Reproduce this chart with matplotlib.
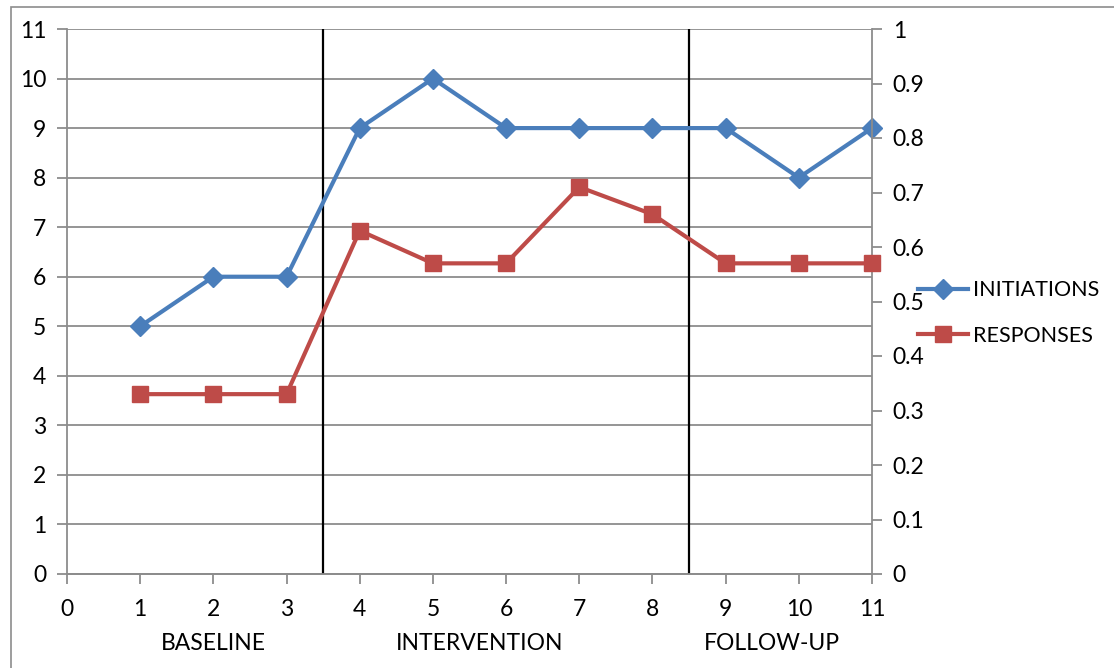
import matplotlib
matplotlib.use("Agg")
import matplotlib.pyplot as plt
from matplotlib.patches import Rectangle
from matplotlib.lines import Line2D

plt.rcParams['font.family'] = ['Lato', 'DejaVu Sans']

sessions = [1, 2, 3, 4, 5, 6, 7, 8, 9, 10, 11]
initiations = [5, 6, 6, 9, 10, 9, 9, 9, 9, 8, 9]
responses = [0.33, 0.33, 0.33, 0.63, 0.57, 0.57, 0.71, 0.66, 0.57, 0.57, 0.57]
phase_breaks = [3.5, 8.5]
phase_names = ["BASELINE", "INTERVENTION", "FOLLOW-UP"]
phase_centers = [2, 5.64, 9.63]

blue = "#4A7EBB"
red = "#BE4B48"
grey = "#8C8C8C"
fs = 16.5

fig = plt.figure(figsize=(11.14, 6.68), dpi=100)
ax = fig.add_axes([67 / 1114, 94 / 668, 805 / 1114, 545 / 668])
ax2 = ax.twinx()

# outer chart border (cropped on right/bottom)
fig.patches.append(Rectangle((11 / 1114, -0.1), 1.2, 1.1 - 7 / 668,
                             transform=fig.transFigure, fill=False,
                             edgecolor=grey, lw=1.2))

ax.set_xlim(0, 11)
ax.set_ylim(0, 11)
ax2.set_ylim(0, 1)
ax.set_xticks(range(0, 12))
ax.set_yticks(range(0, 12))
ax2.set_yticks([i / 10 for i in range(11)])
ax2.set_yticklabels(["0"] + ["0.%d" % i for i in range(1, 10)] + ["1"])

ax.yaxis.grid(True, color=grey, lw=1.3)
ax.set_axisbelow(True)
for a in (ax, ax2):
    for s in a.spines.values():
        s.set_color(grey)
        s.set_linewidth(1.3)
    a.spines['top'].set_visible(False)
    a.tick_params(colors=grey, labelcolor="black", labelsize=fs, length=7,
                  width=1.3, pad=8)
ax2.spines['left'].set_visible(False)
ax.spines['right'].set_visible(False)
ax.tick_params(axis='x', pad=11)

for xb in phase_breaks:
    ax.axvline(xb, color="black", lw=1.6, zorder=3)

ax.plot(sessions, initiations, color=blue, lw=3, marker="D", ms=10,
        clip_on=False, zorder=4)
ax2.plot(sessions, responses, color=red, lw=3, marker="s", ms=12,
         clip_on=False, zorder=4)

for name, xc in zip(phase_names, phase_centers):
    ax.text(xc, -0.127, name, transform=ax.get_xaxis_transform(),
            ha="center", va="center", fontsize=fs)

handles = [Line2D([], [], color=blue, lw=3, marker="D", ms=10),
           Line2D([], [], color=red, lw=3, marker="s", ms=12)]
fig.legend(handles, ["INITIATIONS", "RESPONSES"], loc="center left",
           bbox_to_anchor=(918 / 1114, 1 - 313 / 668), frameon=False,
           fontsize=15.5, handlelength=2.3, handletextpad=0.25,
           labelspacing=1.2, borderaxespad=0, borderpad=0)

fig.savefig("out.png", dpi=100)
